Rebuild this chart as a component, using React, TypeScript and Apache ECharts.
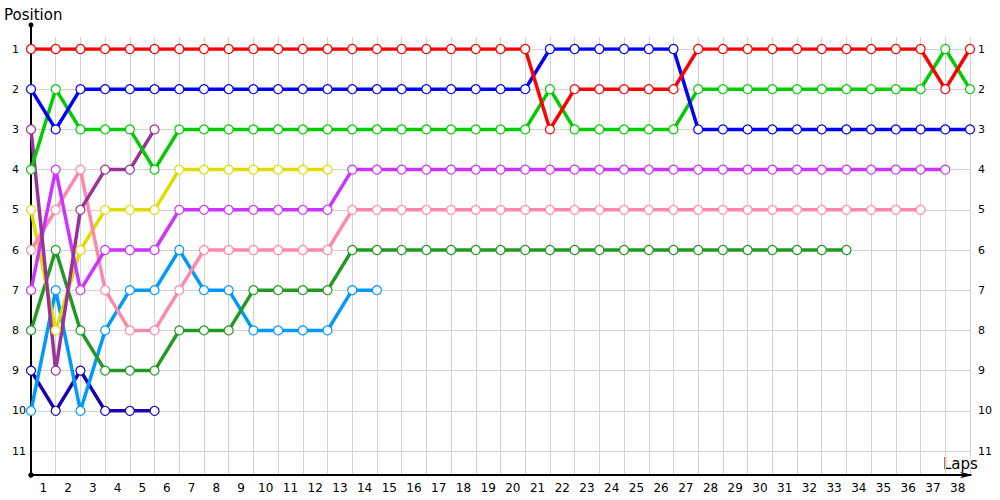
import React, { useEffect, useRef } from 'react';
import * as echarts from 'echarts';

const lapLabels = ['1','2','3','4','5','6','7','8','9','10','11','12','13','14','15','16','17','18','19','20','21','22','23','24','25','26','27','28','29','30','31','32','33','34','35','36','37','38'];
const positionTicks = [1, 2, 3, 4, 5, 6, 7, 8, 9, 10, 11];

const redPos = [1,1,1,1,1,1,1,1,1,1,1,1,1,1,1,1,1,1,1,1,1,3,2,2,2,2,2,1,1,1,1,1,1,1,1,1,1,2,1];
const bluePos = [2,3,2,2,2,2,2,2,2,2,2,2,2,2,2,2,2,2,2,2,2,1,1,1,1,1,1,3,3,3,3,3,3,3,3,3,3,3,3];
const greenPos = [4,2,3,3,3,4,3,3,3,3,3,3,3,3,3,3,3,3,3,3,3,2,3,3,3,3,3,2,2,2,2,2,2,2,2,2,2,1,2];
const purplePos = [3,9,5,4,4,3];
const violetPos = [7,4,7,6,6,6,5,5,5,5,5,5,5,4,4,4,4,4,4,4,4,4,4,4,4,4,4,4,4,4,4,4,4,4,4,4,4,4];
const pinkPos = [6,5,4,7,8,8,7,6,6,6,6,6,6,5,5,5,5,5,5,5,5,5,5,5,5,5,5,5,5,5,5,5,5,5,5,5,5];
const yellowPos = [5,8,6,5,5,5,4,4,4,4,4,4,4];
const darkGreenPos = [8,6,8,9,9,9,8,8,8,7,7,7,7,6,6,6,6,6,6,6,6,6,6,6,6,6,6,6,6,6,6,6,6,6];
const lightBluePos = [10,7,10,8,7,7,6,7,7,8,8,8,8,7,7];
const navyPos = [9,10,9,10,10,10];

const seriesDefs = [
  { name: 'Navy', color: '#1a00b3', data: navyPos },
  { name: 'Light blue', color: '#0099ff', data: lightBluePos },
  { name: 'Dark green', color: '#229922', data: darkGreenPos },
  { name: 'Yellow', color: '#dddd00', data: yellowPos },
  { name: 'Pink', color: '#ff88aa', data: pinkPos },
  { name: 'Violet', color: '#cc33ff', data: violetPos },
  { name: 'Purple', color: '#993399', data: purplePos },
  { name: 'Green', color: '#00cc00', data: greenPos },
  { name: 'Blue', color: '#0000ff', data: bluePos },
  { name: 'Red', color: '#ff0000', data: redPos },
];

const FONT = 'DejaVu Sans';
const GRID_COLOR = '#d3d3d3';

export default function App() {
  const ref = useRef<HTMLDivElement>(null);
  useEffect(() => {
    const chart = echarts.init(ref.current as HTMLDivElement, null, { renderer: 'svg' });
    const option: any = {
      animation: false,
      backgroundColor: '#ffffff',
      grid: [
        { left: 31, top: 49, width: 939, height: 402 },
        { left: 31, top: 37, width: 939, height: 438 },
        { left: 31, top: 25, width: 939, height: 450 },
      ],
      xAxis: [
        { gridIndex: 0, type: 'value', min: 0, max: 38, interval: 1, show: false },
        {
          gridIndex: 1, type: 'value', min: 0, max: 38, interval: 1,
          axisLine: { show: false }, axisTick: { show: false }, axisLabel: { show: false },
          splitLine: { show: true, lineStyle: { color: GRID_COLOR, width: 1 } },
        },
        {
          gridIndex: 2, type: 'value', min: 0, max: 38, interval: 1, position: 'bottom',
          axisLine: {
            show: true, lineStyle: { color: '#000', width: 2 },
            symbol: ['circle', 'arrow'], symbolSize: [5, 13], symbolOffset: [0, 3],
          },
          axisTick: { show: false }, axisLabel: { show: false }, splitLine: { show: false },
        },
        {
          gridIndex: 2, type: 'category', data: lapLabels, boundaryGap: true, position: 'bottom',
          axisLine: { show: false }, axisTick: { show: false }, splitLine: { show: false },
          axisLabel: { show: true, interval: 0, margin: 7, fontSize: 12, fontFamily: FONT, color: '#000' },
        },
      ],
      yAxis: [
        {
          gridIndex: 0, type: 'value', inverse: true, min: 1, max: 11, interval: 1, position: 'left',
          axisLine: { show: false }, axisTick: { show: false },
          axisLabel: {
            show: true, align: 'left', margin: 19, fontSize: 11, fontFamily: FONT, color: '#000',
            formatter: (v: number) => (positionTicks.includes(v) ? String(v) : ''),
          },
          splitLine: { show: true, lineStyle: { color: GRID_COLOR, width: 1 } },
        },
        {
          gridIndex: 0, type: 'value', inverse: true, min: 1, max: 11, interval: 1, position: 'right',
          axisLine: { show: false }, axisTick: { show: false },
          axisLabel: {
            show: true, margin: 8, fontSize: 11, fontFamily: FONT, color: '#000',
            formatter: (v: number) => (positionTicks.includes(v) ? String(v) : ''),
          },
          splitLine: { show: false },
        },
        { gridIndex: 1, type: 'value', min: 0, max: 1, show: false },
        {
          gridIndex: 2, type: 'value', min: 0, max: 1, position: 'left',
          axisLine: {
            show: true, lineStyle: { color: '#000', width: 2 },
            symbol: ['circle', 'circle'], symbolSize: [5, 5],
          },
          axisTick: { show: false }, axisLabel: { show: false }, splitLine: { show: false },
        },
      ],
      graphic: [
        { type: 'text', left: 4, top: 7, style: { text: 'Position', fontSize: 15, fontFamily: FONT, fill: '#000' } },
        { type: 'text', left: 943, top: 456, style: { text: 'Laps', fontSize: 15, fontFamily: FONT, fill: '#000' } },
      ],
      series: seriesDefs.map((s) => ({
        name: s.name,
        type: 'line',
        xAxisIndex: 0,
        yAxisIndex: 0,
        data: s.data.map((p, i) => [i, p]),
        symbol: 'circle',
        symbolSize: 9,
        showAllSymbol: true,
        lineStyle: { color: s.color, width: 3.5 },
        itemStyle: { color: '#ffffff', borderColor: s.color, borderWidth: 1.2 },
        emphasis: { disabled: true },
      })),
    };
    chart.setOption(option);
    return () => chart.dispose();
  }, []);
  return <div ref={ref} style={{ position: 'fixed', left: 0, top: 0, width: 1000, height: 500 }} />;
}
